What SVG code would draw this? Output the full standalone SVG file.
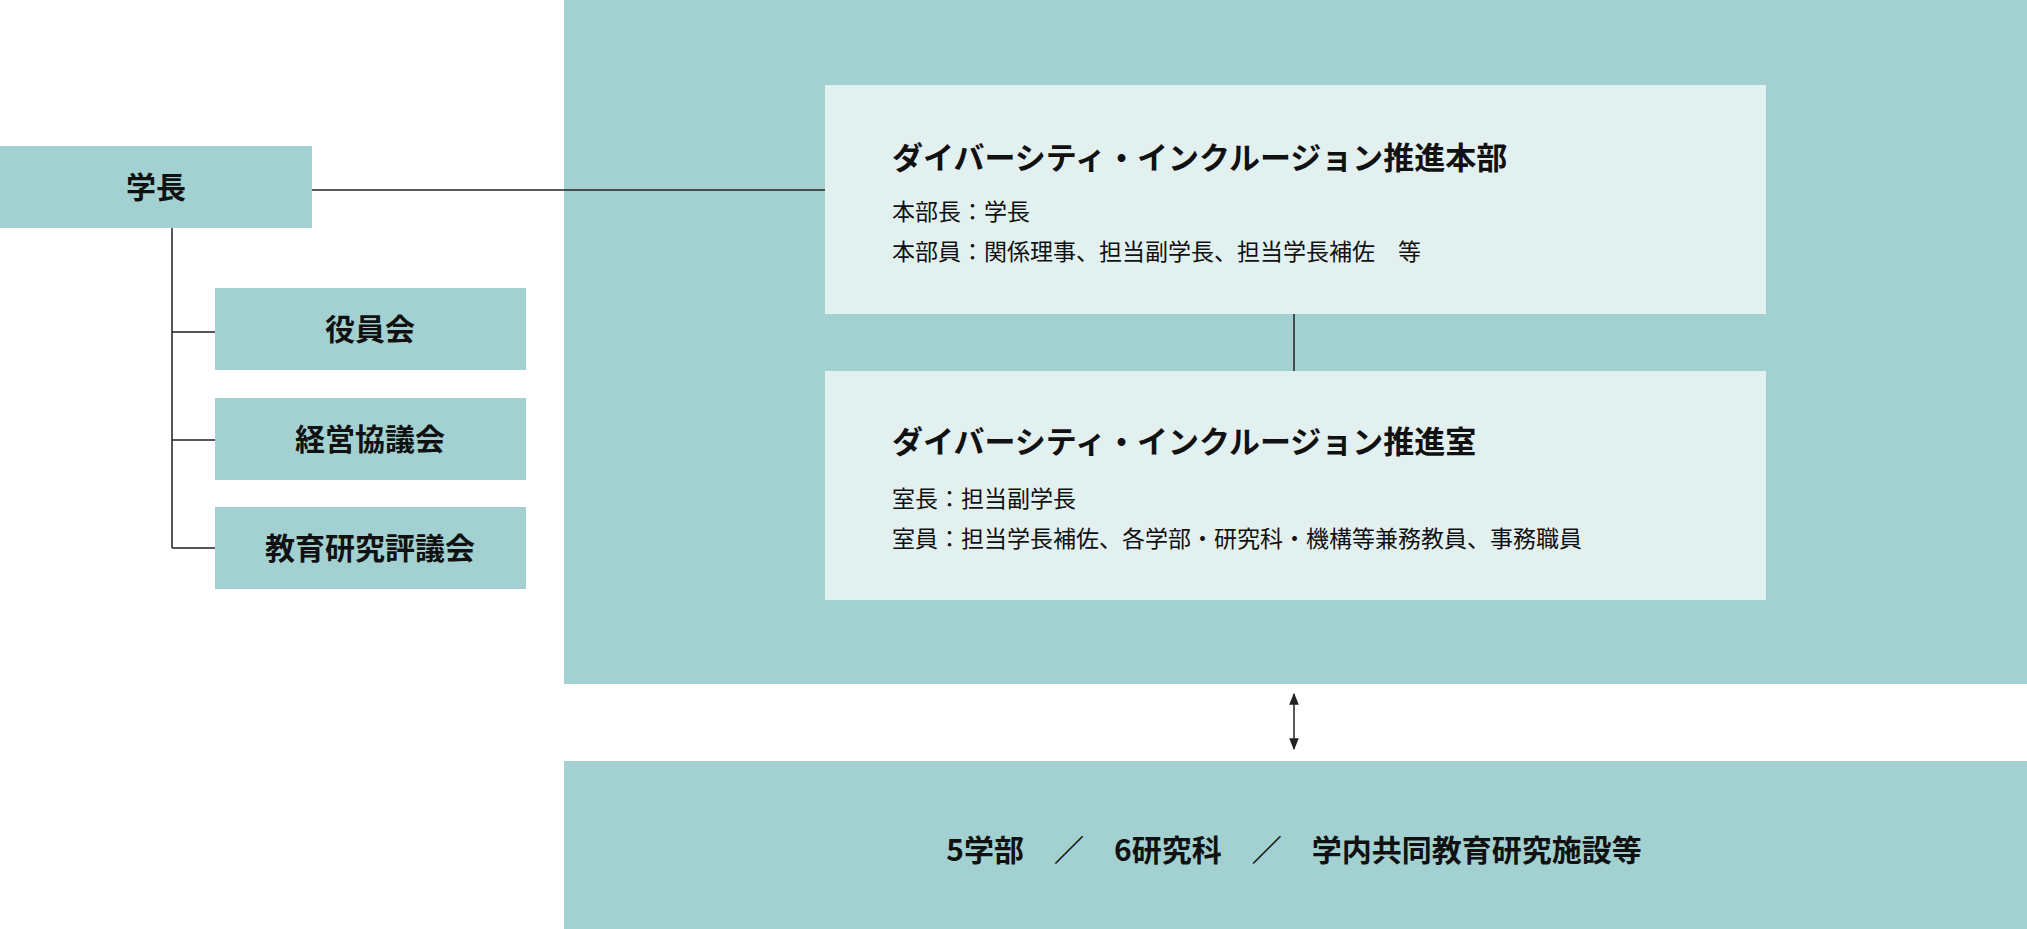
<svg xmlns="http://www.w3.org/2000/svg" width="2027" height="929" viewBox="0 0 2027 929">
<defs>
<style>
.t{fill:#a3d1d2}
.l{fill:#e3f0f0}
text{font-family:"Noto Sans CJK JP","Noto Sans",sans-serif;fill:#111}
.b{font-weight:bold;font-size:30px}
.h{font-weight:bold;font-size:31px}
.s{font-size:23px}
.c{text-anchor:middle}
.ln{stroke:#222;stroke-width:1.5;fill:none}
</style>
<marker id="a" viewBox="0 0 10 10" refX="9" refY="5" markerWidth="8" markerHeight="8" orient="auto-start-reverse"><path d="M0,1 L10,5 L0,9 z" fill="#222"/></marker>
</defs>
<rect width="2027" height="929" fill="#fff"/>
<rect class="t" x="564" y="0" width="1463" height="684"/>
<g id="connectors">
<path class="ln" d="M312,190 H825"/>
<path class="ln" d="M172,228 V548 M172,332 H215 M172,440 H215 M172,548 H215"/>
<path class="ln" d="M1294,314 V371"/>
<path class="ln" d="M1294,694 V749" marker-start="url(#a)" marker-end="url(#a)"/>
</g>
<g id="president"><rect class="t" x="0" y="146" width="312" height="82"/><text class="b c" x="156" y="198">学長</text></g>
<g id="board"><rect class="t" x="215" y="288" width="311" height="82"/><text class="b c" x="370" y="340">役員会</text></g>
<g id="mgmt"><rect class="t" x="215" y="398" width="311" height="82"/><text class="b c" x="370" y="450">経営協議会</text></g>
<g id="edu"><rect class="t" x="215" y="507" width="311" height="82"/><text class="b c" x="370" y="559">教育研究評議会</text></g>
<g id="hq"><rect class="l" x="825" y="85" width="941" height="229"/>
<text class="h" x="892" y="169">ダイバーシティ・インクルージョン推進本部</text>
<text class="s" x="892" y="220">本部長：学長</text>
<text class="s" x="892" y="260">本部員：関係理事、担当副学長、担当学長補佐　等</text></g>
<g id="office"><rect class="l" x="825" y="371" width="941" height="229"/>
<text class="h" x="892" y="453">ダイバーシティ・インクルージョン推進室</text>
<text class="s" x="892" y="507">室長：担当副学長</text>
<text class="s" x="892" y="547">室員：担当学長補佐、各学部・研究科・機構等兼務教員、事務職員</text></g>
<g id="faculties"><rect class="t" x="564" y="761" width="1463" height="168"/>
<text class="b c" x="1294" y="861">5学部　／　6研究科　／　学内共同教育研究施設等</text></g>
</svg>
